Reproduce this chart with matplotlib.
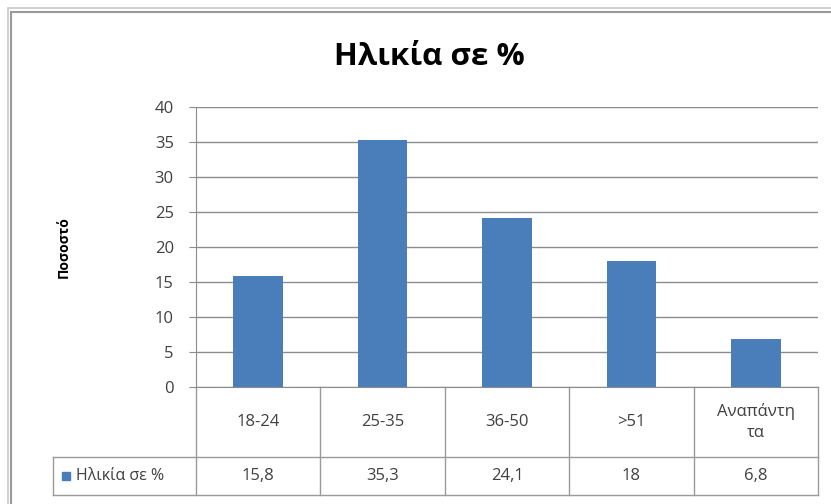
import numpy as np
import matplotlib.pyplot as plt
from matplotlib.lines import Line2D
from matplotlib.patches import Rectangle

plt.rcParams['font.family'] = ['Open Sans', 'DejaVu Sans']

categories = ['18-24', '25-35', '36-50', '>51', 'Αναπάντη\nτα']
values = [15.8, 35.3, 24.1, 18, 6.8]
value_labels = ['15,8', '35,3', '24,1', '18', '6,8']
series_name = 'Ηλικία σε %'
yticks = [0, 5, 10, 15, 20, 25, 30, 35, 40]

bar_color = '#4a7ebb'
grid_color = '#8c8c8c'
text_color = '#404040'

W, H = 831, 504
fig = plt.figure(figsize=(W / 100, H / 100), dpi=100)

# outer chart frame
fig.add_artist(Rectangle((8 / W, -0.05), (W - 8) / W + 0.05, 1.05 - 8 / H,
                         transform=fig.transFigure, fill=False,
                         edgecolor='#c8c8c8', linewidth=1.2))
fig.add_artist(Rectangle((11 / W, -0.05), (W - 11) / W + 0.05, 1.05 - 12 / H,
                         transform=fig.transFigure, fill=False,
                         edgecolor='#9a9a9a', linewidth=1.5))

left, right, top, bottom = 196, 818, 107, 387
ax = fig.add_axes([left / W, 1 - bottom / H, (right - left) / W, (bottom - top) / H])

x = np.arange(len(categories))
ax.bar(x, values, width=0.4, color=bar_color, zorder=3)

ax.set_xlim(-0.5, len(categories) - 0.5)
ax.set_ylim(0, 40)
ax.set_yticks(yticks)
ax.set_xticks([])
ax.yaxis.grid(True, color=grid_color, linewidth=1)
ax.set_axisbelow(True)
for s in ['top', 'right']:
    ax.spines[s].set_visible(False)
for s in ['left', 'bottom']:
    ax.spines[s].set_color(grid_color)
ax.tick_params(axis='y', length=5, color=grid_color, labelsize=12,
               labelcolor=text_color, pad=11)

ax.set_ylabel('Ποσοστό', fontsize=10, fontweight='bold', labelpad=60, color='black')
fig.text(0.517, 1 - 57 / H, 'Ηλικία σε %', ha='center', va='center',
         fontsize=22.5, fontweight='bold')

# data table under the axis
ph = bottom - top
pw = right - left
row1 = -(457 - bottom) / ph
row2 = -(495 - bottom) / ph
leg_x = (53 - left) / pw
lk = dict(transform=ax.transAxes, color='#9a9a9a', linewidth=1, clip_on=False)
ax.add_line(Line2D([leg_x, 1], [row1, row1], **lk))
ax.add_line(Line2D([leg_x, 1], [row2, row2], **lk))
ax.add_line(Line2D([leg_x, leg_x], [row1, row2], **lk))
n = len(categories)
for i in range(n + 1):
    ax.add_line(Line2D([i / n, i / n], [0, row2], **lk))

for i, (c, v) in enumerate(zip(categories, value_labels)):
    xc = (i + 0.5) / n
    ax.text(xc, row1 / 2, c, transform=ax.transAxes, ha='center', va='center',
            fontsize=12, color=text_color, linespacing=1.4)
    ax.text(xc, (row1 + row2) / 2, v, transform=ax.transAxes, ha='center',
            va='center', fontsize=12, color=text_color)

ax.add_patch(Rectangle(((62 - left) / pw, (row1 + row2) / 2 - 4 / ph), 8 / pw, 8 / ph,
                       transform=ax.transAxes, color=bar_color, clip_on=False))
ax.text((76 - left) / pw, (row1 + row2) / 2, series_name, transform=ax.transAxes,
        ha='left', va='center', fontsize=11.5, color=text_color)

fig.savefig('out.png', dpi=100)
